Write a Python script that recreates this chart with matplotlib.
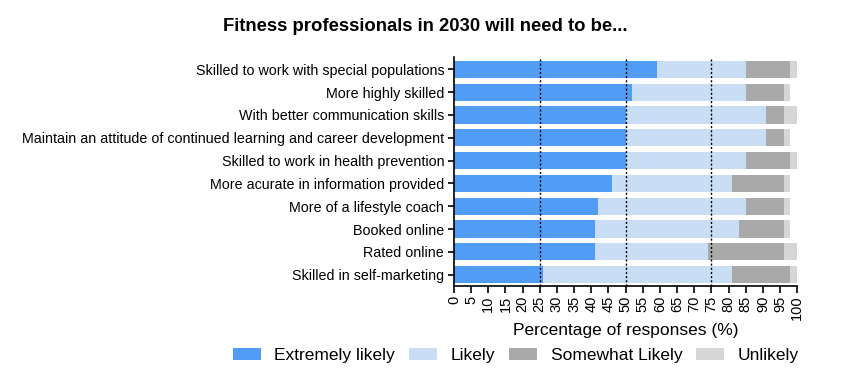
import matplotlib
matplotlib.use("Agg")
import matplotlib.pyplot as plt
import numpy as np

plt.rcParams['font.family'] = ['Liberation Sans', 'DejaVu Sans']

categorias = [
    "Skilled to work with special populations",
    "More highly skilled",
    "With better communication skills",
    "Maintain an attitude of continued learning and career development",
    "Skilled to work in health prevention",
    "More acurate in information provided",
    "More of a lifestyle coach",
    "Booked online",
    "Rated online",
    "Skilled in self-marketing",
]
extremamente = [59, 52, 50, 50, 50, 46, 42, 41, 41, 26]
provavel = [26, 33, 41, 41, 35, 35, 43, 42, 33, 55]
algo_provavel = [13, 11, 5, 5, 13, 15, 11, 13, 22, 17]
improvavel = [2, 2, 4, 2, 2, 2, 2, 2, 4, 2]

series = [
    ("Extremely likely", extremamente, "#519cf4"),
    ("Likely", provavel, "#c9ddf5"),
    ("Somewhat Likely", algo_provavel, "#a9a9a9"),
    ("Unlikely", improvavel, "#d6d6d6"),
]

fig = plt.figure(figsize=(8.5, 3.84), dpi=100)
ax = fig.add_axes([0.534, 0.255, 0.404, 0.597])

y = np.arange(len(categorias))[::-1]
esquerda = np.zeros(len(categorias))
for nome, valores, cor in series:
    ax.barh(y, valores, left=esquerda, height=0.75, color=cor, label=nome, zorder=2)
    esquerda += np.array(valores)

# linhas de referencia
for xv in [25, 50, 75]:
    ax.axvline(xv, color="black", linestyle=(0, (1.5, 1.5)), linewidth=1, zorder=3)

ax.set_xlim(0, 100)
ax.set_ylim(-0.5, 9.55)
ax.set_xticks(np.arange(0, 101, 5))
ax.set_xticklabels([str(v) for v in range(0, 101, 5)], rotation=90, fontsize=10.5)
ax.set_yticks(y)
ax.set_yticklabels(categorias, fontsize=10.3)
ax.spines['top'].set_visible(False)
ax.spines['right'].set_visible(False)
ax.spines['left'].set_linewidth(1.2)
ax.spines['bottom'].set_linewidth(1.2)
ax.tick_params(axis='x', length=5, width=1.2, pad=2)
ax.tick_params(axis='y', length=4, width=1.2, pad=3)
ax.set_xlabel("Percentage of responses (%)", fontsize=12.5, labelpad=2)

fig.text(0.5, 0.93, "Fitness professionals in 2030 will need to be...",
         ha='center', va='center', fontsize=13.3, fontweight='bold')

fig.legend(loc='center', bbox_to_anchor=(0.607, 0.075), ncol=4, frameon=False,
           fontsize=12.5, handlelength=1.6, handleheight=0.7,
           columnspacing=0.8, handletextpad=0.8)

fig.savefig("out.png", dpi=100)
